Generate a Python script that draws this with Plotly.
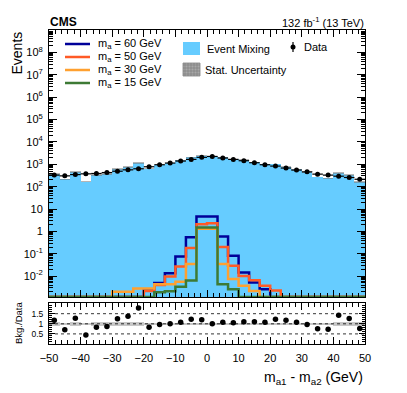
import numpy as np
import plotly.graph_objects as go

# binning: 30 bins from -50 to 50 GeV
bin_edges = np.linspace(-50, 50, 31)
bin_centers = 0.5 * (bin_edges[:-1] + bin_edges[1:])
bin_w = bin_edges[1] - bin_edges[0]

# observed data (events per bin)
data_counts = [328, 304, 347, 374, 388, 427, 490, 566, 630, 776,
               955, 1135, 1393, 1656, 2040, 2240, 1900, 1656, 1445, 1175,
               955, 830, 680, 550, 460, 363, 328, 294, 257, 214]

# event mixing background prediction
bkg_counts = [384, 213, 444, 168, 322, 371, 613, 775, 1121, 644,
              926, 1135, 1504, 2020, 2448, 2240, 2052, 1739, 1590, 1293,
              1031, 1013, 796, 594, 446, 272, 239, 417, 326, 165]

# relative stat. uncertainty on the background
bkg_rel_unc = [0.10, 0.04, 0.10, 0.04, 0.10, 0.10, 0.10, 0.10, 0.10, 0.04,
               0.03, 0.03, 0.03, 0.03, 0.03, 0.03, 0.03, 0.03, 0.03, 0.03,
               0.03, 0.03, 0.03, 0.03, 0.04, 0.04, 0.04, 0.10, 0.10, 0.10]

# signal templates
sig_60 = [0, 0, 0, 0, 0, 0, 0, 0, 0, 0.0026,
          0.0049, 0.0135, 0.076, 0.55, 4.6, 4.6, 0.59, 0.081, 0.0145, 0.0052,
          0.0026, 0, 0, 0, 0, 0, 0, 0, 0, 0]
sig_50 = [0, 0, 0, 0, 0, 0, 0, 0, 0, 0.0022,
          0.0040, 0.0097, 0.027, 0.18, 2.1, 2.3, 0.20, 0.029, 0.0103, 0.0066,
          0.0037, 0.0023, 0, 0, 0, 0, 0, 0, 0, 0]
sig_30 = [0, 0, 0, 0, 0, 0, 0.0020, 0.0020, 0.0028, 0.0028,
          0.0044, 0.0044, 0.0056, 0.035, 1.3, 1.3, 0.035, 0.0074, 0.0037, 0.0022,
          0, 0, 0, 0, 0, 0, 0, 0, 0, 0]
sig_15 = [0, 0, 0, 0, 0, 0, 0, 0, 0, 0,
          0.0019, 0.0021, 0.0034, 0.0064, 1.5, 1.5, 0.0044, 0.0026, 0, 0,
          0, 0, 0, 0, 0, 0, 0, 0, 0, 0]

signals = [
    ("m<sub>a</sub> = 60 GeV", sig_60, "#000099"),
    ("m<sub>a</sub> = 50 GeV", sig_50, "#ff5a26"),
    ("m<sub>a</sub> = 30 GeV", sig_30, "#ffa030"),
    ("m<sub>a</sub> = 15 GeV", sig_15, "#3d7a35"),
]

FONT = "Liberation Sans, Arial, sans-serif"
W, H = 407, 393
L, R, T, B = 49, 365, 30, 344      # plot frame in page pixels
OFF = 8                            # the page body adds an 8px margin
YLOG_MIN, YLOG_MAX = -2.93, 9.0

data_arr = np.array(data_counts, dtype=float)
bkg_arr = np.array(bkg_counts, dtype=float)
unc_arr = np.array(bkg_rel_unc)
ratio = bkg_arr / data_arr


def px(x):
    return (x - L) / (R - L)


def py(y):
    return (B - y) / (B - T)


fig = go.Figure()

# event mixing background
fig.add_trace(go.Bar(x=bin_centers, y=bkg_arr, width=bin_w,
                     marker=dict(color="#66ccff", line_width=0),
                     xaxis="x2", yaxis="y", showlegend=False))
# stat uncertainty band
fig.add_trace(go.Bar(x=bin_centers, y=2 * unc_arr * bkg_arr, base=bkg_arr * (1 - unc_arr),
                     width=bin_w,
                     marker=dict(color="rgba(120,120,120,0.55)", line_width=0),
                     xaxis="x2", yaxis="y", showlegend=False))

# signal histograms, empty bins sit on the frame bottom like ROOT does
floor = 10 ** YLOG_MIN
for name, vals, col in signals:
    v = np.maximum(np.array(vals, dtype=float), floor)
    fig.add_trace(go.Scatter(x=bin_edges, y=list(v) + [v[-1]], mode="lines",
                             line=dict(color=col, width=2.5, shape="hv"),
                             xaxis="x2", yaxis="y", showlegend=False))

# data
fig.add_trace(go.Scatter(x=bin_centers, y=data_arr, mode="markers",
                         marker=dict(color="black", size=5),
                         error_x=dict(type="constant", value=bin_w / 2, width=0,
                                      thickness=1.2, color="black"),
                         error_y=dict(type="data", array=np.sqrt(data_arr), width=0,
                                      thickness=1.2, color="black"),
                         xaxis="x2", yaxis="y", showlegend=False))

# ratio panel
fig.add_trace(go.Bar(x=bin_centers, y=2 * unc_arr, base=1 - unc_arr, width=bin_w,
                     marker=dict(color="#c8c8c8", line_width=0),
                     xaxis="x", yaxis="y2", showlegend=False))
fig.add_trace(go.Scatter(x=bin_centers, y=ratio, mode="markers",
                         marker=dict(color="black", size=5.5),
                         xaxis="x", yaxis="y2", showlegend=False))

# log tick labels
major_exp = list(range(-3, 10))
tick_vals = [10.0 ** e for e in major_exp]
tick_text = []
for e in major_exp:
    if e in (-3, 9):
        tick_text.append("")
    elif e == 0:
        tick_text.append("1")
    elif e == 1:
        tick_text.append("10")
    else:
        tick_text.append("10<sup>%d</sup>" % e)
minor_vals = [k * 10.0 ** e for e in range(-3, 9) for k in range(2, 10)]

axis_common = dict(showline=True, linecolor="black", linewidth=1, mirror="allticks",
                   ticks="inside", tickcolor="black", showgrid=False, zeroline=False)

main_bottom = (B - 297) / (B - T)
ratio_top = (B - 303) / (B - T)

fig.update_layout(
    width=W - OFF, height=H - OFF,
    margin=dict(l=L - OFF, r=W - R, t=T - OFF, b=H - B),
    paper_bgcolor="white", plot_bgcolor="white",
    barmode="overlay", bargap=0,
    font=dict(family=FONT, size=11, color="black"),
    xaxis=dict(domain=[0, 1], anchor="y2", range=[-50, 50], dtick=10, ticklen=7,
               tickfont=dict(size=11), ticklabelstandoff=4,
               minor=dict(dtick=2, ticks="inside", ticklen=4, tickcolor="black"),
               **axis_common),
    xaxis2=dict(domain=[0, 1], anchor="y", matches="x", range=[-50, 50], dtick=10,
                ticklen=7, showticklabels=False,
                minor=dict(dtick=2, ticks="inside", ticklen=4, tickcolor="black"),
                **axis_common),
    yaxis=dict(domain=[main_bottom, 1], anchor="x2", type="log",
               range=[YLOG_MIN, YLOG_MAX], tickmode="array", tickvals=tick_vals,
               ticktext=tick_text, ticklen=8, ticklabelstandoff=3,
               tickfont=dict(size=11),
               minor=dict(tickmode="array", tickvals=minor_vals, ticks="inside",
                          ticklen=4, tickcolor="black"),
               **axis_common),
    yaxis2=dict(domain=[0, ratio_top], anchor="x", range=[0, 2.03],
                tickmode="array", tickvals=[0.5, 1, 1.5], ticktext=["0.5", "1", "1.5"],
                ticklen=6, ticklabelstandoff=3, tickfont=dict(size=8.5),
                minor=dict(dtick=0.1, ticks="inside", ticklen=3, tickcolor="black"),
                **axis_common),
)

shapes = []
# dotted reference lines in ratio panel
for yv in (0.5, 1.0, 1.5):
    shapes.append(dict(type="line", xref="x", yref="y2", x0=-50, x1=50, y0=yv, y1=yv,
                       line=dict(color="black", width=0.8, dash="dot"), layer="above"))

# legend: signals
leg_rows = [44, 57, 70, 83]
annotations = []
for (name, vals, col), yy in zip(signals, leg_rows):
    shapes.append(dict(type="line", xref="paper", yref="paper", x0=px(65), x1=px(90),
                       y0=py(yy), y1=py(yy), line=dict(color=col, width=2.5)))
    annotations.append(dict(xref="paper", yref="paper", x=px(96), y=py(yy), text=name,
                            showarrow=False, xanchor="left", yanchor="middle",
                            font=dict(size=11)))

# legend: event mixing / stat unc
shapes.append(dict(type="rect", xref="paper", yref="paper", x0=px(183), x1=px(200),
                   y0=py(55), y1=py(42), fillcolor="#66ccff", line_width=0))
shapes.append(dict(type="rect", xref="paper", yref="paper", x0=px(183), x1=px(200),
                   y0=py(76), y1=py(63), fillcolor="#a8a8a8",
                   line=dict(color="#808080", width=0.8)))
for gx in range(185, 200, 3):
    shapes.append(dict(type="line", xref="paper", yref="paper", x0=px(gx), x1=px(gx),
                       y0=py(76), y1=py(63), line=dict(color="#7a7a7a", width=0.6)))
for gy in range(65, 76, 3):
    shapes.append(dict(type="line", xref="paper", yref="paper", x0=px(183), x1=px(200),
                       y0=py(gy), y1=py(gy), line=dict(color="#7a7a7a", width=0.6)))
annotations.append(dict(xref="paper", yref="paper", x=px(205), y=py(49),
                        text="Event Mixing", showarrow=False, xanchor="left",
                        yanchor="middle", font=dict(size=11)))
annotations.append(dict(xref="paper", yref="paper", x=px(203), y=py(70),
                        text="Stat. Uncertainty", showarrow=False, xanchor="left",
                        yanchor="middle", font=dict(size=11)))

# legend: data
shapes.append(dict(type="line", xref="paper", yref="paper", x0=px(293), x1=px(293),
                   y0=py(52), y1=py(42), line=dict(color="black", width=1.2)))
shapes.append(dict(type="circle", xref="paper", yref="paper", x0=px(290.5), x1=px(295.5),
                   y0=py(49.5), y1=py(44.5), fillcolor="black", line_width=0))
annotations.append(dict(xref="paper", yref="paper", x=px(302), y=py(47), text="Data",
                        showarrow=False, xanchor="left", yanchor="middle",
                        font=dict(size=11)))

# header texts and axis titles
annotations += [
    dict(xref="paper", yref="paper", x=px(48), y=py(22), text="<b>CMS</b>",
         showarrow=False, xanchor="left", yanchor="middle", font=dict(size=12)),
    dict(xref="paper", yref="paper", x=px(366), y=py(22),
         text="132 fb<sup>-1</sup> (13 TeV)", showarrow=False, xanchor="right",
         yanchor="middle", font=dict(size=11)),
    dict(xref="paper", yref="paper", x=px(16), y=py(30), text="Events", textangle=-90,
         showarrow=False, xanchor="center", yanchor="top", font=dict(size=14)),
    dict(xref="paper", yref="paper", x=px(18), y=py(323), text="Bkg./Data", textangle=-90,
         showarrow=False, xanchor="center", yanchor="middle", font=dict(size=9.5)),
    dict(xref="paper", yref="paper", x=px(365), y=py(378),
         text="m<sub>a1</sub> - m<sub>a2</sub> (GeV)", showarrow=False,
         xanchor="right", yanchor="middle", font=dict(size=14)),
]

fig.update_layout(shapes=shapes, annotations=annotations)

fig.write_html("out.html")
